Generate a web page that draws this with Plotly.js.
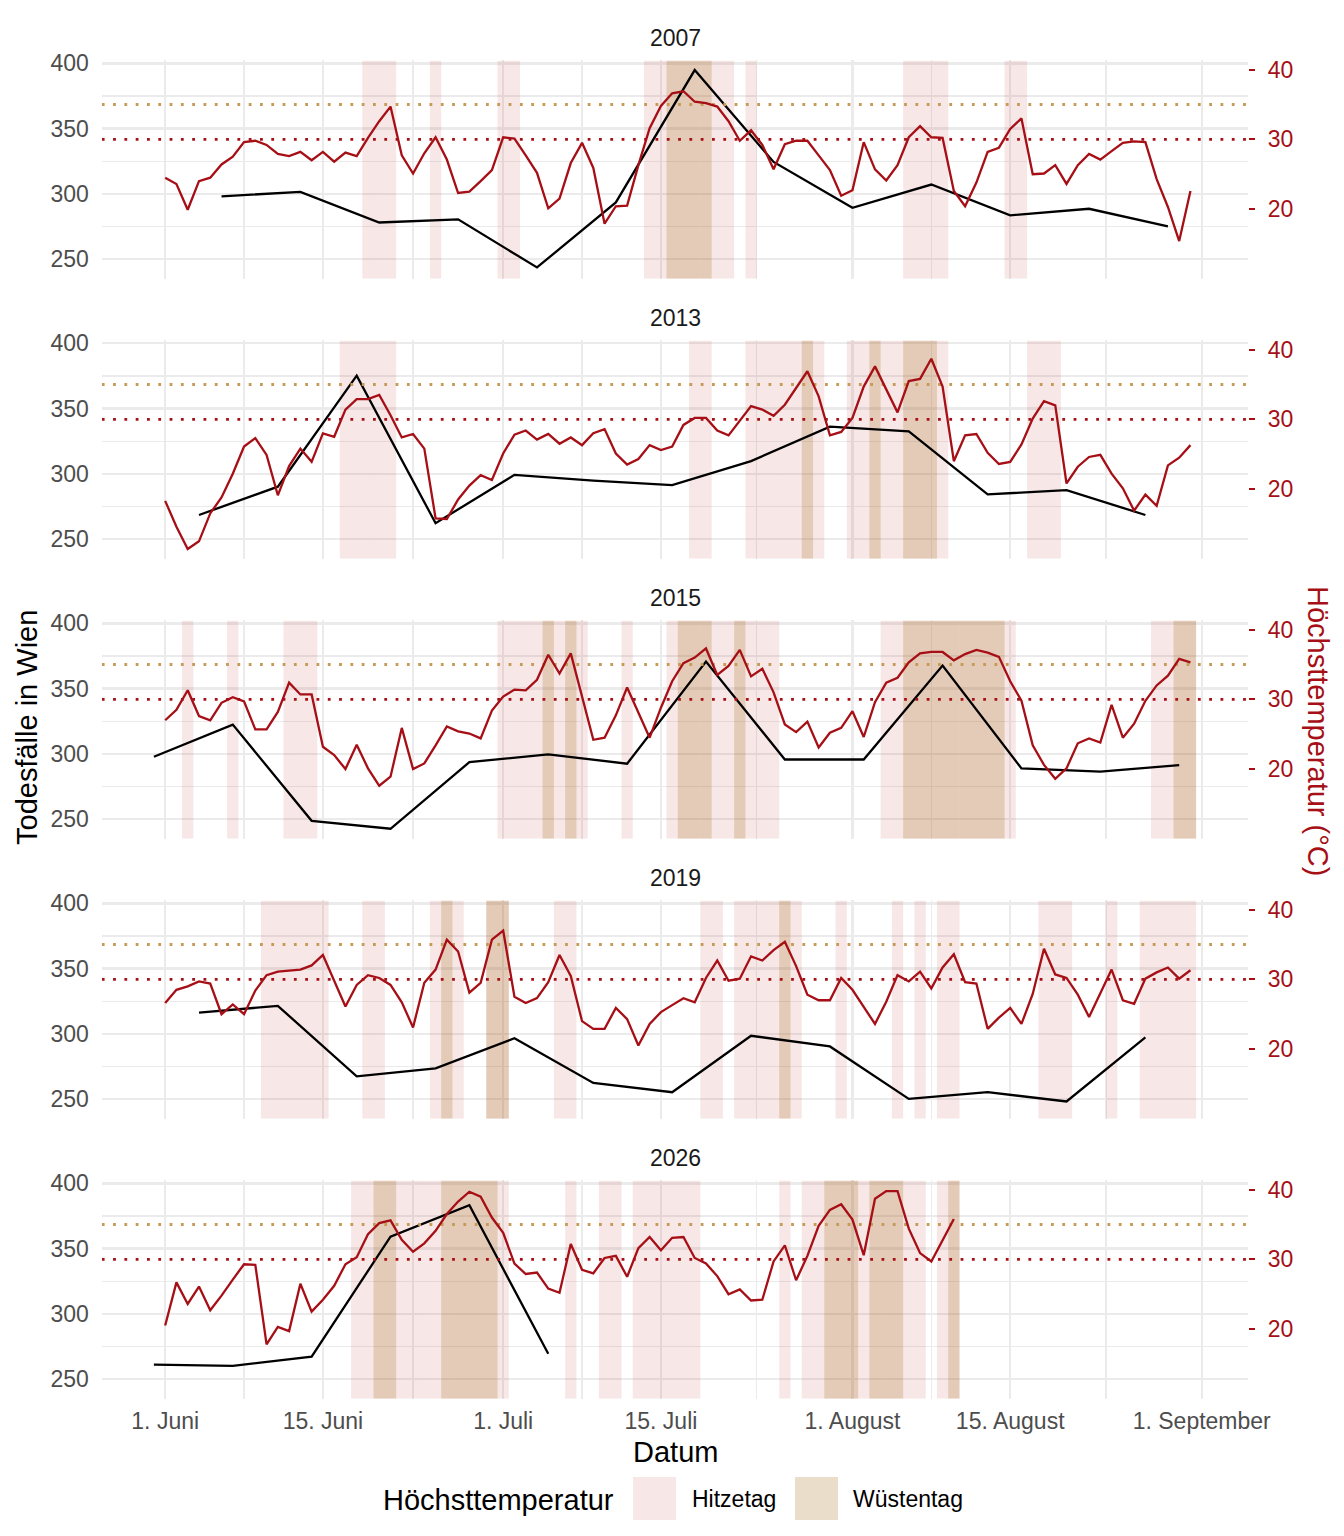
<!DOCTYPE html>
<html>
<head>
<meta charset="utf-8">
<script src="https://cdn.plot.ly/plotly-3.0.1.min.js"></script>
<style>
body{margin:0;background:#fff}
#chart{width:1344px;height:1536px}
</style>
</head>
<body>
<div id="chart"></div>
<script>
var years = ['2007', '2013', '2015', '2019', '2026'];

// Höchsttemperatur (°C), täglich ab 1. Juni
var temp2007 = [24.5,23.6,19.9,24.0,24.5,26.4,27.5,29.6,29.8,29.2,27.9,27.6,28.2,27.0,28.2,26.8,28.1,27.6,30.2,32.6,
	34.7,27.7,25.1,28.0,30.3,27.1,22.3,22.5,24.0,25.6,30.3,30.1,27.7,25.2,20.1,21.5,26.6,29.5,25.9,17.9,
	20.4,20.5,26.3,31.6,34.8,36.6,36.9,35.4,35.2,34.7,32.6,29.8,31.3,29.2,25.7,29.3,29.8,29.8,27.7,25.6,
	21.9,22.7,29.6,25.7,24.1,26.3,30.3,31.9,30.3,30.2,22.6,20.4,23.8,28.2,28.8,31.5,33.0,25.0,25.1,26.3,
	23.6,26.3,27.9,27.1,28.3,29.5,29.7,29.6,24.3,20.3,15.4,22.6];
var temp2013 = [18.3,14.6,11.4,12.5,16.5,18.8,22.2,26.1,27.3,24.9,19.1,23.3,25.8,23.9,28.0,27.5,31.4,32.9,32.9,33.5,
	30.6,27.4,27.9,25.8,15.8,15.7,18.5,20.5,22.0,21.3,25.1,27.8,28.4,27.1,27.9,26.5,27.4,26.3,28.0,28.6,
	25.1,23.5,24.3,26.3,25.6,26.1,29.2,30.2,30.2,28.4,27.7,29.8,31.9,31.4,30.5,32.1,34.5,36.9,33.3,27.7,
	28.2,30.2,34.7,37.6,34.3,31.0,35.5,35.8,38.7,34.7,24.0,27.7,27.9,25.2,23.6,23.9,26.4,30.1,32.6,32.0,
	20.8,23.2,24.6,24.9,22.2,20.1,16.9,19.2,17.6,23.4,24.5,26.3];
var temp2015 = [27.0,28.5,31.3,27.6,27.0,29.5,30.3,29.7,25.7,25.7,28.2,32.4,30.7,30.7,23.2,22.0,20.0,23.5,20.1,17.6,
	18.9,25.9,20.0,20.8,23.4,26.1,25.4,25.1,24.4,28.4,30.4,31.4,31.3,32.8,36.4,33.7,36.6,30.3,24.2,24.5,
	27.7,31.7,28.2,24.5,28.8,32.6,35.2,36.0,37.3,33.5,34.8,37.1,33.3,34.4,31.0,26.4,25.3,26.8,23.1,25.2,
	25.9,28.3,24.6,29.6,32.4,33.1,35.3,36.6,36.8,36.8,35.6,36.5,37.1,36.7,36.1,32.6,29.8,23.4,20.6,18.6,
	20.1,23.7,24.4,23.8,29.2,24.5,26.5,29.8,32.0,33.4,35.8,35.3];
var temp2019 = [26.6,28.5,29.0,29.7,29.4,25.0,26.4,25.0,28.4,30.6,31.1,31.3,31.4,32.0,33.5,29.8,26.1,29.2,30.6,30.2,
	29.2,26.7,23.1,29.5,31.4,35.7,34.0,28.1,29.5,35.7,37.0,27.5,26.6,27.3,29.6,33.5,30.5,24.0,22.9,22.9,
	25.9,24.3,20.5,23.6,25.3,26.3,27.3,26.7,30.2,32.7,29.8,30.1,33.3,32.7,34.2,35.4,31.9,27.8,27.0,27.0,
	30.2,28.5,26.0,23.6,26.8,30.6,29.7,31.1,28.7,31.7,33.6,29.6,29.4,22.9,24.5,25.9,23.6,27.9,34.4,30.7,
	30.2,27.8,24.6,27.9,31.4,27.0,26.5,30.1,31.0,31.7,30.1,31.3];
var temp2026 = [20.5,26.7,23.6,26.1,22.7,24.8,27.1,29.3,29.2,17.8,20.3,19.7,26.5,22.5,24.2,26.2,29.3,30.3,33.6,35.2,
	35.6,32.8,31.1,32.3,34.1,36.5,38.3,39.7,39.0,36.0,33.8,29.4,27.9,28.1,25.8,25.2,32.2,28.5,28.0,30.2,
	30.5,27.5,31.6,33.2,31.3,33.1,33.2,30.2,29.4,27.6,25.0,25.7,24.1,24.2,29.7,32.0,27.0,30.5,34.8,37.1,
	37.9,35.7,30.6,38.7,39.8,39.8,34.4,30.9,29.7,32.7,35.8];

// Todesfälle in Wien, wöchentlich
var deathDates2007 = ['06-06','06-13','06-20','06-27','07-04','07-11','07-18','07-25','08-01','08-08','08-15','08-22','08-29'];
var deaths2007 = [298,301.5,278,280.4,243.5,293.4,394.9,324.4,289.3,307.1,283.5,288.5,275];
var deathDates2013 = ['06-04','06-11','06-18','06-25','07-02','07-09','07-16','07-23','07-30','08-06','08-13','08-20','08-27'];
var deaths2013 = [268.4,290.1,375.3,262.1,299.2,294.7,291.3,309.7,336.1,332.6,284.2,287.5,268.4];
var deathDates2015 = ['05-31','06-07','06-14','06-21','06-28','07-05','07-12','07-19','07-26','08-02','08-09','08-16','08-23','08-30'];
var deaths2015 = [297.7,322.4,248.6,242.5,293.6,299.5,292.4,370.7,295.6,295.6,367.7,288.8,286.3,291.3];
var deathDates2019 = ['06-04','06-11','06-18','06-25','07-02','07-09','07-16','07-23','07-30','08-06','08-13','08-20','08-27'];
var deaths2019 = [316.3,321.4,267.4,273.5,296.6,262.3,255.2,298.5,290.3,250.1,255.2,248.1,297.2];
var deathDates2026 = ['05-31','06-07','06-14','06-21','06-28','07-05'];
var deaths2026 = [261,260,267.1,359.2,383.2,269.4];

var tickDates = ['06-01','06-15','07-01','07-15','08-01','08-15','09-01'];
var tickLabels = ['1. Juni','15. Juni','1. Juli','15. Juli','1. August','15. August','1. September'];
var hitzeLimit = 30, wuesteLimit = 35;

var temps = [temp2007, temp2013, temp2015, temp2019, temp2026];
var deathDates = [deathDates2007, deathDates2013, deathDates2015, deathDates2019, deathDates2026];
var deaths = [deaths2007, deaths2013, deaths2015, deaths2019, deaths2026];

// Tage ab 1. Juni
var monthOffset = {'05': -31, '06': 0, '07': 30, '08': 61, '09': 92};
function dayOf(md) {
	return monthOffset[md.slice(0, 2)] + (+md.slice(3)) - 1;
}

var W = 1344, H = 1536;
var plotL = 101.8, plotR = 1248.2;
var panelTop = 60.4, panelH = 218.4, panelStep = 280;
var xRange = [-5.625, 96.125];
var yRange = [234.8, 402.3];
// zweite Achse: Todesfälle = tShift + tScale * Temperatur
var tScale = 5.345, tShift = 181.4;
var tRange = [(yRange[0] - tShift) / tScale, (yRange[1] - tShift) / tScale];

var red = '#A50F15', tanLine = '#C69B55', grey30 = '#4d4d4d';
var pink = 'rgba(178,34,34,0.11)', tan = 'rgba(170,120,40,0.25)';
var gridCol = '#EBEBEB';
var font = 'Liberation Sans, Arial, sans-serif';

function px(x) { return x / W; }
function py(y) { return 1 - y / H; }
function id(n) { return n === 1 ? '' : String(n); }

var majorDays = tickDates.map(dayOf);
var minorDays = [];
for (var i = 0; i < majorDays.length - 1; i++) minorDays.push((majorDays[i] + majorDays[i + 1]) / 2);

var data = [], annotations = [], shapes = [];
var layout = {
	width: W, height: H,
	margin: {l: 0, r: 0, t: 0, b: 0},
	paper_bgcolor: '#fff', plot_bgcolor: 'rgba(0,0,0,0)',
	showlegend: false, barmode: 'overlay',
	font: {family: font, color: '#000'}
};

years.forEach(function(year, k) {
	var xa = 'x' + id(k + 1), ya = 'y' + id(2 * k + 1), yb = 'y' + id(2 * k + 2);
	var t = temps[k];
	var days = t.map(function(v, i) { return i; });
	var hot = days.filter(function(d) { return t[d] >= hitzeLimit; });
	var desert = days.filter(function(d) { return t[d] >= wuesteLimit; });
	var span = yRange[1] - yRange[0];

	[[hot, pink], [desert, tan]].forEach(function(b) {
		data.push({
			type: 'bar', x: b[0], y: b[0].map(function() { return span; }), base: yRange[0],
			width: 1, marker: {color: b[1], line: {width: 0}},
			xaxis: xa, yaxis: ya, hoverinfo: 'skip'
		});
	});

	data.push({
		type: 'scatter', mode: 'lines', x: deathDates[k].map(dayOf), y: deaths[k],
		line: {color: '#000', width: 2.3}, xaxis: xa, yaxis: ya
	});

	[[wuesteLimit, tanLine], [hitzeLimit, red]].forEach(function(h) {
		data.push({
			type: 'scatter', mode: 'lines', x: xRange, y: [h[0], h[0]],
			line: {color: h[1], width: 2.8, dash: '2.8px,8.5px'}, xaxis: xa, yaxis: yb, hoverinfo: 'skip'
		});
	});

	data.push({
		type: 'scatter', mode: 'lines', x: days, y: t,
		line: {color: red, width: 2.3}, xaxis: xa, yaxis: yb
	});

	var top = panelTop + k * panelStep, bottom = top + panelH;
	var dom = [py(bottom), py(top)];

	layout['xaxis' + id(k + 1)] = {
		domain: [px(plotL), px(plotR)], range: xRange, anchor: ya,
		tickmode: 'array', tickvals: majorDays, ticktext: tickLabels,
		showticklabels: k === years.length - 1, ticks: '',
		tickfont: {size: 23, color: grey30}, ticklabelstandoff: 6,
		showgrid: true, gridcolor: gridCol, gridwidth: 2.2,
		minor: {tickmode: 'array', tickvals: minorDays, showgrid: true, gridcolor: gridCol, gridwidth: 1.1, ticks: ''},
		zeroline: false, showline: false
	};
	layout['yaxis' + id(2 * k + 1)] = {
		domain: dom, range: yRange, anchor: xa,
		tickmode: 'array', tickvals: [250, 300, 350, 400], ticks: '',
		tickfont: {size: 23, color: grey30}, ticklabelstandoff: 12,
		showgrid: true, gridcolor: gridCol, gridwidth: 2.2,
		minor: {tickmode: 'array', tickvals: [275, 325, 375], showgrid: true, gridcolor: gridCol, gridwidth: 1.1, ticks: ''},
		zeroline: false, showline: false
	};
	layout['yaxis' + id(2 * k + 2)] = {
		overlaying: ya, side: 'right', anchor: xa, range: tRange,
		tickmode: 'array', tickvals: [20, 30, 40],
		ticks: 'outside', ticklen: 6, tickwidth: 2.2, tickcolor: red,
		tickfont: {size: 23, color: red}, ticklabelstandoff: 8,
		showgrid: false, zeroline: false, showline: false
	};

	annotations.push({
		text: year, xref: 'paper', yref: 'paper', x: px((plotL + plotR) / 2), y: py(top - 22.5),
		xanchor: 'center', yanchor: 'middle', showarrow: false, font: {size: 23, color: '#1a1a1a'}
	});
});

// Achsentitel
annotations.push({
	text: 'Todesfälle in Wien', xref: 'paper', yref: 'paper', x: px(27), y: py(728),
	textangle: -90, xanchor: 'center', yanchor: 'middle', showarrow: false, font: {size: 29, color: '#000'}
});
annotations.push({
	text: 'Höchsttemperatur (°C)', xref: 'paper', yref: 'paper', x: px(1318), y: py(731),
	textangle: 90, xanchor: 'center', yanchor: 'middle', showarrow: false, font: {size: 29, color: red}
});
annotations.push({
	text: 'Datum', xref: 'paper', yref: 'paper', x: px((plotL + plotR) / 2), y: py(1452),
	xanchor: 'center', yanchor: 'middle', showarrow: false, font: {size: 29, color: '#000'}
});

// Legende
annotations.push({
	text: 'Höchsttemperatur', xref: 'paper', yref: 'paper', x: px(381), y: py(1500),
	xanchor: 'left', yanchor: 'middle', showarrow: false, font: {size: 29, color: '#000'}
});
[['Hitzetag', pink, 633, 690], ['Wüstentag', tan, 795, 851]].forEach(function(l) {
	shapes.push({
		type: 'rect', xref: 'paper', yref: 'paper', x0: px(l[2]), x1: px(l[2] + 43), y0: py(1520), y1: py(1477),
		fillcolor: l[1], line: {width: 0}
	});
	annotations.push({
		text: l[0], xref: 'paper', yref: 'paper', x: px(l[3]), y: py(1499),
		xanchor: 'left', yanchor: 'middle', showarrow: false, font: {size: 23, color: '#000'}
	});
});

layout.annotations = annotations;
layout.shapes = shapes;

Plotly.newPlot('chart', data, layout, {displayModeBar: false, staticPlot: true});
</script>
</body>
</html>
